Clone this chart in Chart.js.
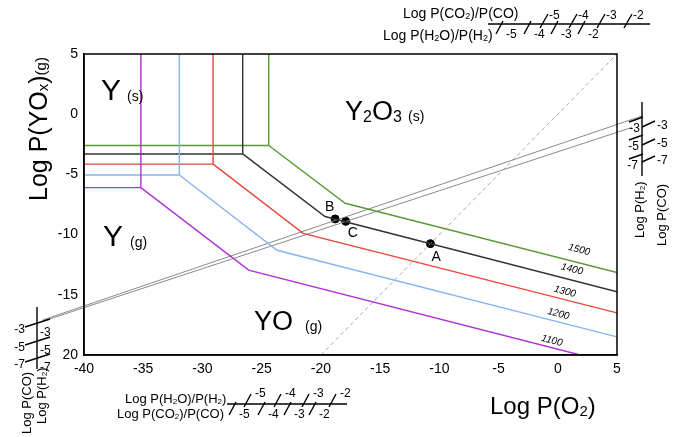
<!DOCTYPE html>
<html>
<head>
<meta charset="utf-8">
<script src="https://cdn.jsdelivr.net/npm/chart.js@4.4.1/dist/chart.umd.min.js"></script>
<style>
  body { margin: 0; background: #fff; }
</style>
</head>
<body>
<canvas id="chart" width="679" height="437"></canvas>
<script>
// isotherms
const temps = ['1100', '1200', '1300', '1400', '1500'];
const tempColors = ['#ae30d6', '#86b4f2', '#e8463c', '#333333', '#5b9a36'];
const cornerX = [-35.2, -31.95, -29.1, -26.6, -24.4];   // Y(s)/Y(g)/Y2O3 triple corner
const cornerY = [-6.1, -5.05, -4.15, -3.3, -2.6];
const kinkX = [-26.1, -23.7, -21.5, -19.65, -17.95];    // Y(g) -> YO(g) change of slope
const kinkY = [-12.95, -11.3, -9.9, -8.5, -7.4];
const endX = [1.9, 5, 5, 5, 5];
const endY = [-20, -18.5, -16.5, -14.75, -13.15];

// gas buffer lines (H2/H2O and CO/CO2) and the O2 diagonal
const gasX = [[-43.5, 7.1], [-43.5, 6.25]];
const gasY = [[-17.1, -0.15], [-17.2, -1.1]];
const dashX = [-20, 5];
const dashY = [-20, 5];

const pointNames = ['A', 'B', 'C'];
const pointX = [-10.75, -18.8, -17.9];
const pointY = [-10.75, -8.7, -8.9];

// nomogram tick labels
const ratioTicks = ['-5', '-4', '-3', '-2'];
const pressTicks = ['-3', '-5', '-7'];

const FONT = '"Liberation Sans", Arial, sans-serif';

const datasets = [];
temps.forEach((t, i) => {
  datasets.push({
    label: t,
    data: [
      { x: cornerX[i], y: 5 }, { x: cornerX[i], y: cornerY[i] }, { x: -40, y: cornerY[i] },
      { x: -40, y: null },
      { x: cornerX[i], y: cornerY[i] }, { x: kinkX[i], y: kinkY[i] }, { x: endX[i], y: endY[i] }
    ],
    borderColor: tempColors[i],
    borderWidth: 1.4,
    pointRadius: 0,
    showLine: true,
    spanGaps: false
  });
});
gasX.forEach((xs, i) => {
  datasets.push({
    label: 'gas' + i,
    data: xs.map((x, j) => ({ x: x, y: gasY[i][j] })),
    borderColor: '#8a8a8a',
    borderWidth: 1,
    pointRadius: 0,
    showLine: true,
    clip: false
  });
});
datasets.push({
  label: 'O2',
  data: dashX.map((x, j) => ({ x: x, y: dashY[j] })),
  borderColor: '#a6a6a6',
  borderWidth: 1,
  borderDash: [4, 3],
  pointRadius: 0,
  showLine: true
});
datasets.push({
  label: 'points',
  data: pointX.map((x, j) => ({ x: x, y: pointY[j] })),
  backgroundColor: '#000',
  borderColor: '#000',
  pointRadius: 4,
  showLine: false
});

function rich(ctx, x, y, parts) {
  // parts: [text, size, dy]
  parts.forEach(p => {
    ctx.font = p[1] + 'px ' + FONT;
    ctx.fillText(p[0], x, y + (p[2] || 0));
    x += ctx.measureText(p[0]).width;
  });
}

function seg(ctx, x1, y1, x2, y2) {
  ctx.beginPath();
  ctx.moveTo(x1, y1);
  ctx.lineTo(x2, y2);
  ctx.stroke();
}

const decorations = {
  id: 'decorations',
  afterDatasetsDraw(chart) {
    const ctx = chart.ctx;
    const a = chart.chartArea;
    const xs = chart.scales.x, ys = chart.scales.y;
    ctx.save();

    // frame
    ctx.strokeStyle = '#000';
    ctx.lineWidth = 1.5;
    ctx.strokeRect(a.left, a.top, a.right - a.left, a.bottom - a.top);

    ctx.fillStyle = '#000';
    ctx.textBaseline = 'alphabetic';
    ctx.textAlign = 'left';

    // point labels
    ctx.font = '14px ' + FONT;
    const off = [[1, 17], [-10, -8], [2, 16]];
    pointNames.forEach((n, j) => {
      const px = xs.getPixelForValue(pointX[j]), py = ys.getPixelForValue(pointY[j]);
      ctx.fillText(n, px + off[j][0], py + off[j][1]);
    });

    // isotherm labels
    const labX = [-0.5, 0.05, 0.6, 1.2, 1.8];
    const labOff = [7, 8, 8, 11, 13];
    ctx.font = 'italic 10px ' + FONT;
    ctx.textAlign = 'center';
    ctx.textBaseline = 'middle';
    temps.forEach((t, i) => {
      const f = (labX[i] - kinkX[i]) / (endX[i] - kinkX[i]);
      const yv = kinkY[i] + f * (endY[i] - kinkY[i]);
      const px = xs.getPixelForValue(labX[i]), py = ys.getPixelForValue(yv) - labOff[i];
      ctx.save();
      ctx.translate(px, py);
      ctx.rotate(Math.atan(0.254));
      ctx.fillText(t, 0, 0);
      ctx.restore();
    });
    ctx.textAlign = 'left';
    ctx.textBaseline = 'alphabetic';

    // phase fields
    rich(ctx, 101, 100, [['Y', 30]]);
    rich(ctx, 127, 101, [['(s)', 14]]);
    rich(ctx, 345, 120, [['Y', 27], ['2', 16, 2], ['O', 27], ['3', 16, 2]]);
    rich(ctx, 408, 121, [['(s)', 14]]);
    rich(ctx, 103, 246, [['Y', 30]]);
    rich(ctx, 130, 247, [['(g)', 14]]);
    rich(ctx, 254, 330, [['YO', 27]]);
    rich(ctx, 305, 331, [['(g)', 14]]);

    // axis titles
    rich(ctx, 490, 414, [['Log P(O', 24], ['2', 15, 2], [')', 24]]);
    ctx.save();
    ctx.translate(47, 201);
    ctx.rotate(-Math.PI / 2);
    rich(ctx, 0, 0, [['Log P(YO', 25], ['x', 15, 1], [')', 25], ['(g)', 15, -1]]);
    ctx.restore();

    ctx.strokeStyle = '#000';
    ctx.lineWidth = 1.4;

    // top nomogram
    seg(ctx, 488, 24, 650, 24);
    rich(ctx, 403, 18, [['Log P(CO', 14], ['2', 9, 1], [')/P(CO)', 14]]);
    rich(ctx, 383, 40, [['Log P(H', 14], ['2', 9, 1], ['O)/P(H', 14], ['2', 9, 1], [')', 14]]);
    const topUp = [543, 572, 600, 627];
    const topDn = [500, 528, 555, 582];
    ctx.font = '12px ' + FONT;
    ratioTicks.forEach((t, j) => {
      seg(ctx, topUp[j] - 3, 28, topUp[j] + 5, 14);
      ctx.fillText(t, topUp[j] + 6, 19);
      seg(ctx, topDn[j] - 4, 34, topDn[j] + 3, 21);
      ctx.fillText(t, topDn[j] + 6, 38);
    });

    // bottom nomogram
    seg(ctx, 227, 404, 347, 404);
    rich(ctx, 125, 403, [['Log P(H', 13], ['2', 8, 1], ['O)/P(H', 13], ['2', 8, 1], [')', 13]]);
    rich(ctx, 117, 418, [['Log P(CO', 13], ['2', 8, 1], [')/P(CO)', 13]]);
    const botUp = [247, 277, 305, 332];
    const botDn = [233, 262, 288, 313];
    ctx.font = '12px ' + FONT;
    ratioTicks.forEach((t, j) => {
      seg(ctx, botUp[j] - 3, 407, botUp[j] + 4, 394);
      ctx.fillText(t, botUp[j] + 8, 397);
      seg(ctx, botDn[j] - 4, 415, botDn[j] + 3, 402);
      ctx.fillText(t, botDn[j] + 6, 418);
    });

    // left nomogram
    seg(ctx, 37, 307, 37, 369);
    const lTick = [325, 343, 360];
    ctx.font = '12px ' + FONT;
    pressTicks.forEach((t, j) => {
      seg(ctx, 25, lTick[j] + 2, 50, lTick[j] - 6);
      ctx.textAlign = 'right';
      ctx.fillText(t, 25, lTick[j] + 8);
      ctx.textAlign = 'left';
      ctx.fillText(t, 40, lTick[j] + 11);
    });
    ctx.save();
    ctx.translate(31, 434);
    ctx.rotate(-Math.PI / 2);
    rich(ctx, 0, 0, [['Log P(CO)', 13]]);
    ctx.restore();
    ctx.save();
    ctx.translate(46, 424);
    ctx.rotate(-Math.PI / 2);
    rich(ctx, 0, 0, [['Log P(H', 13], ['2', 8, 1], [')', 13]]);
    ctx.restore();

    // right nomogram
    seg(ctx, 642, 102, 642, 176);
    const rL = [117, 135, 154];
    const rR = [127, 145, 162];
    ctx.font = '12px ' + FONT;
    pressTicks.forEach((t, j) => {
      seg(ctx, 629, rL[j] + 5, 643, rL[j]);
      ctx.textAlign = 'right';
      ctx.fillText(t, 640 - j, rL[j] + 15);
      seg(ctx, 642, rR[j], 655, rR[j] - 6);
      ctx.textAlign = 'left';
      ctx.fillText(t, 657, rR[j] + 2);
    });
    ctx.save();
    ctx.translate(644, 238);
    ctx.rotate(-Math.PI / 2);
    rich(ctx, 0, 0, [['Log P(H', 13], ['2', 8, 1], [')', 13]]);
    ctx.restore();
    ctx.save();
    ctx.translate(666, 246);
    ctx.rotate(-Math.PI / 2);
    rich(ctx, 0, 0, [['Log P(CO)', 13]]);
    ctx.restore();

    ctx.restore();
  }
};

new Chart(document.getElementById('chart'), {
  type: 'scatter',
  data: { datasets: datasets },
  options: {
    responsive: false,
    animation: false,
    layout: { padding: { top: 54, right: 62, bottom: 52, left: 0 } },
    plugins: { legend: { display: false }, tooltip: { enabled: false } },
    scales: {
      x: {
        type: 'linear',
        min: -40,
        max: 5,
        afterFit(scale) { scale.height = 30; },
        grid: { display: false, drawTicks: false },
        border: { display: true, color: '#000', width: 1.5 },
        ticks: { stepSize: 5, color: '#000', padding: 6, font: { family: FONT, size: 14 } }
      },
      y: {
        type: 'linear',
        min: -20,
        max: 5,
        afterFit(scale) { scale.width = 84; },
        grid: { display: false, drawTicks: false },
        border: { display: true, color: '#000', width: 1.5 },
        ticks: {
          stepSize: 5,
          color: '#000',
          padding: 6,
          font: { family: FONT, size: 14 },
          callback: v => (v === -20 ? '20' : String(v))
        }
      }
    }
  },
  plugins: [decorations]
});
</script>
</body>
</html>
